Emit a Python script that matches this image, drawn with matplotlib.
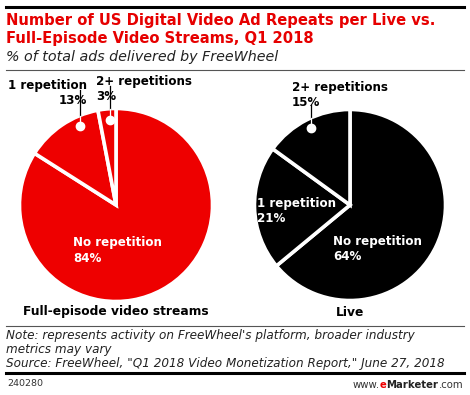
import numpy as np
import matplotlib
matplotlib.use('Agg')
from matplotlib import pyplot as plt
from matplotlib.lines import Line2D
from matplotlib.text import Annotation

categories = ['No repetition', '1 repetition', '2+ repetitions']
full_episode = [84, 13, 3]
live = [64, 21, 15]
pie_titles = ['Full-episode video streams', 'Live']

W, H = 470, 395
RED = '#ee0000'
LAB = 8.6

plt.rcParams['font.family'] = ['DejaVu Sans']

fig = plt.figure(figsize=(W / 100, H / 100), dpi=100)


def fx(x):
    return x / W


def fy(y):
    return 1 - y / H


def hline(y, x0, x1, lw, color):
    fig.add_artist(Line2D([fx(x0), fx(x1)], [fy(y), fy(y)], lw=lw, color=color,
                          transform=fig.transFigure))


hline(7, 6, 464, 2.2, 'black')
hline(70, 6, 464, 0.8, '#555555')
hline(326, 6, 464, 0.8, '#555555')
hline(373, 6, 464, 2.2, 'black')

fig.text(fx(6), fy(20), 'Number of US Digital Video Ad Repeats per Live vs.',
         color='#e60000', fontsize=10.6, fontweight='bold', va='center')
fig.text(fx(6), fy(38), 'Full-Episode Video Streams, Q1 2018',
         color='#e60000', fontsize=10.6, fontweight='bold', va='center')
fig.text(fx(6), fy(57), '% of total ads delivered by FreeWheel',
         color='#222222', fontsize=10.3, style='italic', va='center')

fig.text(fx(6), fy(335), "Note: represents activity on FreeWheel's platform, broader industry",
         color='#222222', fontsize=8.65, style='italic', va='center')
fig.text(fx(6), fy(349), 'metrics may vary',
         color='#222222', fontsize=8.65, style='italic', va='center')
fig.text(fx(6), fy(363), 'Source: FreeWheel, "Q1 2018 Video Monetization Report," June 27, 2018',
         color='#222222', fontsize=8.65, style='italic', va='center')
fig.text(fx(7), fy(384), '240280', color='#333333', fontsize=6.8, va='center')

# www.eMarketer.com, built right to left
tt = fig.text(fx(463), fy(388), '.com', color='#333333', fontsize=7.3, va='baseline', ha='right')
for s, c, wt in [('Marketer', '#222222', 'bold'), ('e', RED, 'bold'), ('www.', '#333333', 'normal')]:
    tt = fig.add_artist(Annotation(
        s, xy=(0, 0), xycoords=tt, xytext=(0, 0), textcoords='offset points',
        color=c, fontsize=7.3, fontweight=wt, va='bottom', ha='right'))


def make_pie(cx, cy, r, values, color, title):
    ax = fig.add_axes([fx(cx - r), fy(cy + r), 2 * r / W, 2 * r / H])
    wedges, _ = ax.pie(values, startangle=90, counterclock=False, colors=[color] * 3,
                       wedgeprops=dict(edgecolor='white', linewidth=2.6))
    ax.set_xlim(-1.005, 1.005)
    ax.set_ylim(-1.005, 1.005)
    ax.set_aspect('equal')
    ax.axis('off')
    fig.text(fx(cx), fy(312), title, fontsize=8.8, fontweight='bold',
             ha='center', va='center', color='black')
    return ax, wedges


def dot(ax, wedge, frac, rad, label_y):
    a = np.deg2rad(wedge.theta1 + frac * (wedge.theta2 - wedge.theta1))
    x, y = rad * np.cos(a), rad * np.sin(a)
    # y of pie edge straight above the dot
    edge = np.sqrt(1 - x ** 2)
    ax.plot([x, x], [edge, label_y], color='black', lw=0.9, clip_on=False)
    ax.plot([x, x], [y, edge], color='white', lw=0.9)
    ax.plot(x, y, 'o', color='white', ms=6)


# full-episode streams
ax1, w1 = make_pie(116, 205, 97, full_episode, RED, pie_titles[0])
dot(ax1, w1[1], 0.30, 0.90, 1.19)
dot(ax1, w1[2], 0.40, 0.88, 1.23)
fig.text(fx(87), fy(86), '1 repetition', fontsize=LAB, fontweight='bold', ha='right', va='center')
fig.text(fx(87), fy(101), '%d%%' % full_episode[1], fontsize=LAB, fontweight='bold', ha='right', va='center')
fig.text(fx(96), fy(81), '2+ repetitions', fontsize=LAB, fontweight='bold', ha='left', va='center')
fig.text(fx(96), fy(96), '%d%%' % full_episode[2], fontsize=LAB, fontweight='bold', ha='left', va='center')
fig.text(fx(73), fy(243), 'No repetition', fontsize=LAB, fontweight='bold', color='white', va='center')
fig.text(fx(73), fy(259), '%d%%' % full_episode[0], fontsize=LAB, fontweight='bold', color='white', va='center')

# live
ax2, w2 = make_pie(350, 205, 96, live, 'black', pie_titles[1])
dot(ax2, w2[2], 0.50, 0.91, 1.05)
fig.text(fx(292), fy(88), '2+ repetitions', fontsize=LAB, fontweight='bold', ha='left', va='center')
fig.text(fx(292), fy(103), '%d%%' % live[2], fontsize=LAB, fontweight='bold', ha='left', va='center')
fig.text(fx(257), fy(204), '1 repetition', fontsize=LAB, fontweight='bold', color='white', va='center')
fig.text(fx(257), fy(219), '%d%%' % live[1], fontsize=LAB, fontweight='bold', color='white', va='center')
fig.text(fx(333), fy(241), 'No repetition', fontsize=LAB, fontweight='bold', color='white', va='center')
fig.text(fx(333), fy(256), '%d%%' % live[0], fontsize=LAB, fontweight='bold', color='white', va='center')

fig.savefig('out.png', dpi=100)
